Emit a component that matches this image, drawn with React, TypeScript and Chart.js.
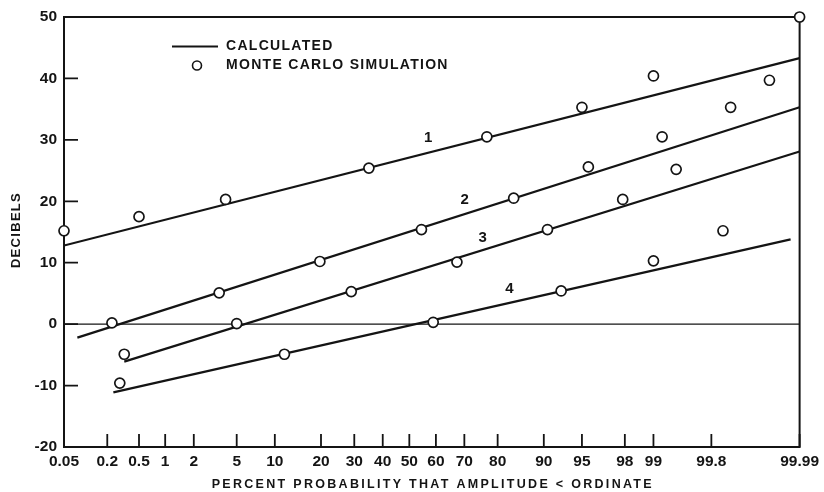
import React, { useEffect, useRef } from "react";
import { Chart, registerables } from "chart.js";

Chart.register(...registerables);

// ---- data ----
const probTicks = [0.05, 0.2, 0.5, 1, 2, 5, 10, 20, 30, 40, 50, 60, 70, 80, 90, 95, 98, 99, 99.8, 99.99];
const dbTicks = [-20, -10, 0, 10, 20, 30, 40, 50];

const simProb = [0.05, 0.5, 4, 35, 77, 95, 99, 99.97, 99.89, 99.2, 95.6, 99.45, 84, 97.9, 54.6, 90.6, 99.86, 19.7, 67.5, 99, 3.5, 29, 92.6, 0.23, 5, 59, 0.33, 11.7, 0.29, 99.99];
const simDb = [15.2, 17.5, 20.3, 25.4, 30.5, 35.3, 40.4, 39.7, 35.3, 30.5, 25.6, 25.2, 20.5, 20.3, 15.4, 15.4, 15.2, 10.2, 10.1, 10.3, 5.1, 5.3, 5.4, 0.2, 0.1, 0.3, -4.9, -4.9, -9.6, 50];

const calc1Prob = [0.05, 99.99];
const calc1Db = [12.8, 43.3];
const calc2Prob = [0.078, 99.99];
const calc2Db = [-2.2, 35.3];
const calc3Prob = [0.33, 99.99];
const calc3Db = [-6.1, 28.1];
const calc4Prob = [0.24, 99.986];
const calc4Db = [-11.1, 13.8];

const curveLabels = ["1", "2", "3", "4"];
const curveLabelProb = [57.1, 70.1, 75.8, 83];
const curveLabelDb = [30.4, 20.3, 14.1, 5.7];

// inverse standard normal CDF (Acklam), input in percent
function probit(pct: number): number {
  const p = pct / 100;
  const a = [-3.969683028665376e1, 2.209460984245205e2, -2.759285104469687e2, 1.38357751867269e2, -3.066479806614716e1, 2.506628277459239];
  const b = [-5.447609879822406e1, 1.615858368580409e2, -1.556989798598866e2, 6.680131188771972e1, -1.328068155288572e1];
  const c = [-7.784894002430293e-3, -3.223964580411365e-1, -2.400758277161838, -2.549732539343734, 4.374664141464968, 2.938163982698783];
  const d = [7.784695709041462e-3, 3.224671290700398e-1, 2.445134137142996, 3.754408661907416];
  const pl = 0.02425;
  if (p < pl) {
    const q = Math.sqrt(-2 * Math.log(p));
    return (((((c[0] * q + c[1]) * q + c[2]) * q + c[3]) * q + c[4]) * q + c[5]) / ((((d[0] * q + d[1]) * q + d[2]) * q + d[3]) * q + 1);
  }
  if (p > 1 - pl) {
    const q = Math.sqrt(-2 * Math.log(1 - p));
    return -(((((c[0] * q + c[1]) * q + c[2]) * q + c[3]) * q + c[4]) * q + c[5]) / ((((d[0] * q + d[1]) * q + d[2]) * q + d[3]) * q + 1);
  }
  const q = p - 0.5;
  const r = q * q;
  return ((((((a[0] * r + a[1]) * r + a[2]) * r + a[3]) * r + a[4]) * r + a[5]) * q) / (((((b[0] * r + b[1]) * r + b[2]) * r + b[3]) * r + b[4]) * r + 1);
}

const pts = (ps: number[], ds: number[]) => ps.map((p, i) => ({ x: probit(p), y: ds[i] }));

const INK = "#141414";
const FONT = "'Liberation Sans', Arial, Helvetica, sans-serif";

const framePlugin = {
  id: "frame",
  beforeDatasetsDraw(chart: any) {
    const { ctx, chartArea: a, scales } = chart;
    ctx.save();
    // zero line
    const y0 = scales.y.getPixelForValue(0);
    ctx.strokeStyle = INK;
    ctx.lineWidth = 1.4;
    ctx.beginPath();
    ctx.moveTo(a.left, y0);
    ctx.lineTo(a.right, y0);
    ctx.stroke();
    // inward ticks
    ctx.lineWidth = 1.8;
    ctx.beginPath();
    dbTicks.forEach((v) => {
      const y = scales.y.getPixelForValue(v);
      ctx.moveTo(a.left, y);
      ctx.lineTo(a.left + 14, y);
    });
    probTicks.forEach((p) => {
      const x = scales.x.getPixelForValue(probit(p));
      ctx.moveTo(x, a.bottom);
      ctx.lineTo(x, a.bottom - 13);
    });
    ctx.stroke();
    // frame
    ctx.lineWidth = 2;
    ctx.strokeRect(a.left, a.top, a.right - a.left, a.bottom - a.top);
    ctx.restore();
  },
  afterDraw(chart: any) {
    const { ctx, chartArea: a, scales } = chart;
    ctx.save();
    ctx.fillStyle = INK;
    ctx.strokeStyle = INK;
    ctx.textBaseline = "middle";
    // curve numbers
    ctx.font = `bold 15px ${FONT}`;
    ctx.textAlign = "center";
    curveLabels.forEach((t, i) => {
      ctx.fillText(t, scales.x.getPixelForValue(probit(curveLabelProb[i])), scales.y.getPixelForValue(curveLabelDb[i]));
    });
    // legend
    const lx = a.left + 108;
    const ly = a.top + 29.5;
    ctx.lineWidth = 2.2;
    ctx.beginPath();
    ctx.moveTo(lx, ly);
    ctx.lineTo(lx + 46, ly);
    ctx.stroke();
    ctx.lineWidth = 1.6;
    ctx.beginPath();
    ctx.arc(lx + 25, ly + 19, 4.5, 0, Math.PI * 2);
    ctx.fillStyle = "#fff";
    ctx.fill();
    ctx.stroke();
    ctx.fillStyle = INK;
    ctx.textAlign = "left";
    ctx.font = `bold 14px ${FONT}`;
    (ctx as any).letterSpacing = "1.3px";
    ctx.fillText("CALCULATED", lx + 54, ly);
    ctx.fillText("MONTE CARLO SIMULATION", lx + 54, ly + 19);
    // x title
    ctx.textAlign = "center";
    ctx.font = `bold 12.5px ${FONT}`;
    (ctx as any).letterSpacing = "2.3px";
    ctx.fillText("PERCENT PROBABILITY THAT AMPLITUDE < ORDINATE", (a.left + a.right) / 2 + 1, a.bottom + 38);
    // y title
    ctx.font = `bold 13px ${FONT}`;
    (ctx as any).letterSpacing = "1.3px";
    ctx.translate(16, (a.top + a.bottom) / 2 - 2);
    ctx.rotate(-Math.PI / 2);
    ctx.fillText("DECIBELS", 0, 0);
    ctx.restore();
  },
};

export default function App() {
  const ref = useRef<HTMLCanvasElement | null>(null);
  useEffect(() => {
    if (!ref.current) return;
    const lineDs = (ps: number[], ds: number[]) => ({
      type: "line" as const,
      data: pts(ps, ds),
      borderColor: INK,
      borderWidth: 2.2,
      pointRadius: 0,
      fill: false,
      tension: 0,
    });
    const chart = new Chart(ref.current, {
      type: "scatter",
      data: {
        datasets: [
          {
            data: pts(simProb, simDb),
            pointStyle: "circle",
            pointRadius: 5,
            pointBorderWidth: 1.7,
            pointBackgroundColor: "#fff",
            pointBorderColor: INK,
            showLine: false,
            clip: false,
          } as any,
          lineDs(calc1Prob, calc1Db),
          lineDs(calc2Prob, calc2Db),
          lineDs(calc3Prob, calc3Db),
          lineDs(calc4Prob, calc4Db),
        ],
      },
      options: {
        animation: false,
        responsive: false,
        layout: { padding: { top: 17, right: 20, left: 0, bottom: 0 } },
        plugins: { legend: { display: false }, tooltip: { enabled: false } },
        scales: {
          x: {
            type: "linear",
            min: probit(0.05),
            max: probit(99.99),
            grid: { display: false, drawTicks: false },
            border: { display: false },
            afterBuildTicks: (s: any) => {
              s.ticks = probTicks.map((p) => ({ value: probit(p) }));
            },
            afterFit: (s: any) => {
              s.height = 45;
            },
            ticks: {
              autoSkip: false,
              maxRotation: 0,
              padding: 5,
              color: INK,
              font: { family: FONT, size: 15.5, weight: "bold" },
              callback: (_v: any, i: number) => String(probTicks[i]),
            },
          },
          y: {
            min: -20,
            max: 50,
            grid: { display: false, drawTicks: false },
            border: { display: false },
            afterBuildTicks: (s: any) => {
              s.ticks = dbTicks.map((v) => ({ value: v }));
            },
            afterFit: (s: any) => {
              s.width = 64;
            },
            ticks: {
              padding: 7,
              color: INK,
              font: { family: FONT, size: 15.5, weight: "bold" },
              callback: (v: any) => String(v),
            },
          },
        },
      } as any,
      plugins: [framePlugin],
    });
    return () => chart.destroy();
  }, []);
  return (
    <div style={{ position: "fixed", left: 0, top: 0, width: 824, height: 492, background: "#fff" }}>
      <canvas ref={ref} width={824} height={492} style={{ width: 824, height: 492, display: "block" }} />
    </div>
  );
}
